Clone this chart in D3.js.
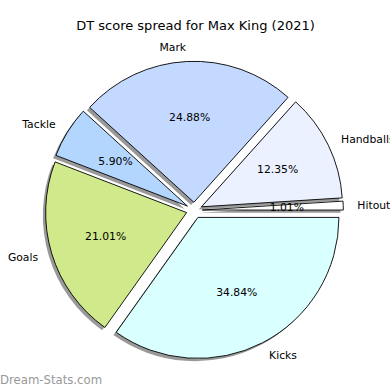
<!DOCTYPE html>
<html><head><meta charset="utf-8">
<script src="https://cdn.jsdelivr.net/npm/d3@7"></script>
<style>body{margin:0;background:#fff}svg{display:block}</style>
</head><body>
<script>
// Slices in counterclockwise order starting at 3 o'clock
const categories = ["Hitouts", "Handballs", "Mark", "Tackle", "Goals", "Kicks"];
const values = [1.01, 12.35, 24.88, 5.90, 21.01, 34.84];
const colors = ["#ffffff", "#ebf1ff", "#c4d9ff", "#b3d6ff", "#cfe98b", "#d9ffff"];
const title = "DT score spread for Max King (2021)";
const watermark = "Dream-Stats.com";

const W = 390, H = 390;
const cx = 194.3, cy = 210.3, R = 141, explode = 8;
const svg = d3.select("body").append("svg").attr("width", W).attr("height", H)
  .style("font-family", "DejaVu Sans, sans-serif");

const total = d3.sum(values);
const angle = d3.scaleLinear().domain([0, total]).range([0, 2 * Math.PI]);
let acc = 0;
const slices = values.map((v, i) => {
  const a0 = angle(acc), a1 = angle(acc + v); acc += v;
  const mid = (a0 + a1) / 2;
  const ox = cx + explode * Math.cos(mid), oy = cy - explode * Math.sin(mid);
  return {cat: categories[i], v, a0, a1, mid, ox, oy, color: colors[i]};
});
const arc = d3.arc().innerRadius(0).outerRadius(R)
  .startAngle(d => Math.PI / 2 - d.a1).endAngle(d => Math.PI / 2 - d.a0);

const sh = 2.8;
svg.append("g").selectAll("path").data(slices).join("path")
  .attr("transform", d => `translate(${d.ox - sh},${d.oy + sh})`)
  .attr("d", arc).attr("fill", "#999").attr("opacity", 1);

svg.append("g").selectAll("path").data(slices).join("path")
  .attr("transform", d => `translate(${d.ox},${d.oy})`)
  .attr("d", arc).attr("fill", d => d.color)
  .attr("stroke", "#000").attr("stroke-width", 0.9).attr("stroke-linejoin", "miter");

svg.append("g").selectAll("text").data(slices).join("text")
  .attr("x", d => d.ox + 1.1 * R * Math.cos(d.mid))
  .attr("y", d => d.oy - 1.1 * R * Math.sin(d.mid))
  .attr("text-anchor", d => Math.cos(d.mid) > 0 ? "start" : "end")
  .attr("dominant-baseline", "central")
  .attr("font-size", 10.8).attr("fill", "#000").text(d => d.cat);

svg.append("g").selectAll("text").data(slices).join("text")
  .attr("x", d => d.ox + 0.6 * R * Math.cos(d.mid))
  .attr("y", d => d.oy - 0.6 * R * Math.sin(d.mid))
  .attr("text-anchor", "middle").attr("dominant-baseline", "central")
  .attr("font-size", 10.8).attr("fill", "#000")
  .text(d => d3.format(".2f")(d.v / total * 100) + "%");

svg.append("text").attr("x", 195.5).attr("y", 30).attr("text-anchor", "middle")
  .attr("font-size", 13).attr("fill", "#000").text(title);

svg.append("text").attr("x", 0).attr("y", 384)
  .attr("font-size", 11.7).attr("fill", "#999").text(watermark);
</script>
</body></html>
